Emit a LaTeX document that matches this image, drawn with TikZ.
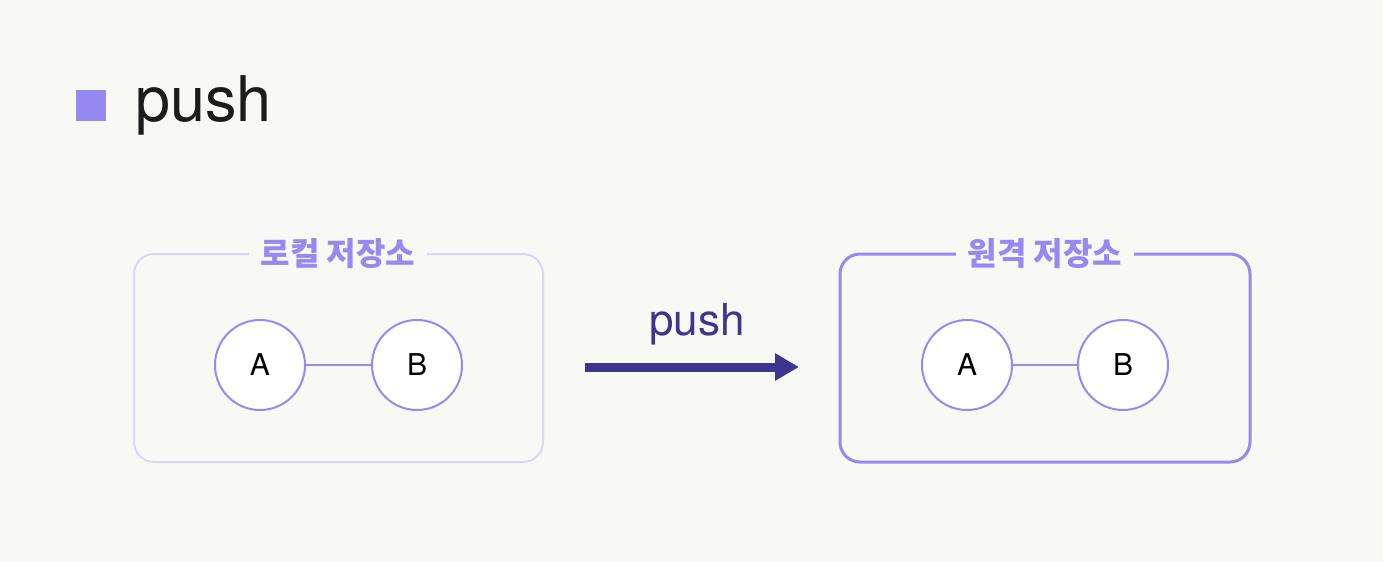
\documentclass[tikz,border=0pt]{standalone}
\usepackage{fontspec}
\setmainfont{Noto Sans CJK KR}
\newfontfamily\latinf{TeX Gyre Heros}
\usetikzlibrary{arrows.meta}
\definecolor{bgc}{HTML}{F8F8F4}
\definecolor{lav}{HTML}{9789F2}
\definecolor{lavlight}{HTML}{DAD6F6}
\definecolor{indigo}{HTML}{3D3590}
\tikzset{
  circ/.style={circle, draw=lav, line width=2pt, fill=white, minimum size=90pt, inner sep=0pt, font=\latinf\fontsize{30}{30}\selectfont},
  link/.style={draw=lav, line width=2pt},
  boxlabel/.style={fill=bgc, inner xsep=12pt, inner ysep=2pt, text=lav, font=\bfseries\fontsize{32}{32}\selectfont},
}
\begin{document}
\begin{tikzpicture}[x=1pt,y=-1pt]
\useasboundingbox (0,0) rectangle (1383,562);
\fill[bgc] (0,0) rectangle (1383,562);
% title
\fill[lav] (76,90) rectangle (106,121);
\node[anchor=base west, inner sep=0pt, font=\latinf\fontsize{63}{63}\selectfont, text={rgb,255:red,28;green,28;blue,28}] (title) at (135,121) {push};
% left box
\draw[lavlight, line width=2pt, rounded corners=20pt] (134,254) rectangle (543,462);
\node[boxlabel] (llab) at (338,254) {로컬 저장소};
% right box
\draw[lav, line width=3pt, rounded corners=20pt] (840,254) rectangle (1250,462);
\node[boxlabel] (rlab) at (1045,254) {원격 저장소};
% circles
\node[circ] (la) at (260,365) {A};
\node[circ] (lb) at (417,365) {B};
\node[circ] (ra) at (967,365) {A};
\node[circ] (rb) at (1123,365) {B};
\draw[link] (la) -- (lb);
\draw[link] (ra) -- (rb);
% arrow
\coordinate (as) at (585,367);
\coordinate (ae) at (799,367);
\draw[indigo, line width=9pt, -{Triangle[length=24pt,width=26pt]}] (as) -- (ae);
\node[anchor=base, inner sep=0pt, text=indigo, font=\latinf\fontsize{44}{44}\selectfont] (plab) at (697,335) {push};
\end{tikzpicture}
\end{document}
